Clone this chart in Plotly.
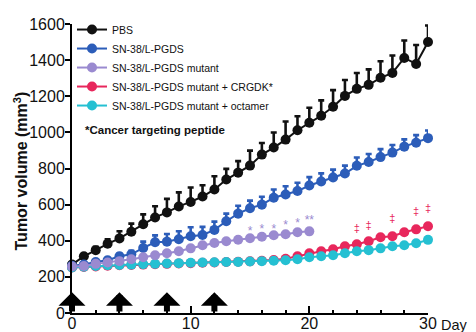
import plotly.graph_objects as go

days = list(range(31))
days_mut = list(range(21))

pbs = [268, 314, 348, 383, 413, 450, 491, 529, 557, 590, 615, 645, 684, 739, 777, 816,
       877, 916, 960, 1012, 1053, 1092, 1142, 1202, 1241, 1263, 1302, 1329, 1412, 1379, 1500]
pbs_err = [0, 12, 18, 25, 40, 45, 55, 62, 75, 78, 80, 62, 73, 59, 64, 83,
           64, 83, 100, 77, 83, 85, 92, 88, 88, 86, 92, 97, 97, 105, 92]

sn38 = [262, 268, 282, 292, 314, 325, 360, 392, 395, 408, 425, 432, 460, 508, 550, 580,
        600, 638, 656, 675, 706, 728, 750, 772, 815, 836, 863, 888, 921, 943, 968]
sn38_err = [0, 8, 10, 12, 15, 20, 35, 38, 42, 45, 50, 45, 46, 42, 44, 42,
            44, 46, 46, 46, 46, 45, 44, 44, 46, 44, 44, 42, 40, 42, 42]

mutant = [258, 260, 272, 280, 287, 298, 309, 320, 331, 342, 358, 375, 388, 397, 406, 414,
          422, 430, 436, 447, 452]

crgdk = [252, 255, 258, 262, 264, 266, 268, 270, 272, 274, 276, 278, 280, 282, 284, 286,
         289, 293, 300, 314, 331, 342, 353, 370, 381, 397, 419, 425, 447, 463, 480]

octamer = [252, 256, 260, 264, 266, 268, 270, 272, 274, 276, 278, 280, 281, 282, 283, 285,
           287, 289, 292, 298, 309, 314, 320, 331, 342, 348, 358, 370, 375, 386, 405]

star_days = [15, 16, 17, 18, 19, 20]
star_y = [448, 462, 462, 482, 494, 512]
star_text = ["*", "*", "*", "*", "*", "**"]

dagger_days = [24, 25, 27, 29, 30]
dagger_y = [463, 480, 518, 557, 574]

dose_days = [0, 4, 8, 12]

legend_names = ["PBS", "SN-38/L-PGDS", "SN-38/L-PGDS mutant",
                "SN-38/L-PGDS mutant + CRGDK*", "SN-38/L-PGDS mutant + octamer"]
y_ticks = [0, 200, 400, 600, 800, 1000, 1200, 1400, 1600]
x_ticks = [0, 10, 20, 30]

C_PBS = "#111111"
C_BLUE = "#2C5DB9"
C_PURPLE = "#9A8AD0"
C_RED = "#E8275C"
C_CYAN = "#25C0D2"

FONT = "Liberation Sans, Arial, sans-serif"

fig = go.Figure()


def add_series(x, y, name, color, rank, err=None):
    kw = {}
    if err is not None:
        kw["error_y"] = dict(type="data", array=err, arrayminus=[0] * len(err),
                             symmetric=False, color=color, thickness=2.6, width=3)
    fig.add_trace(go.Scatter(
        x=x, y=y, name=name, mode="lines+markers",
        line=dict(color=color, width=2),
        marker=dict(color=color, size=10),
        cliponaxis=False, legendrank=rank, **kw))


# drawing order (bottom to top)
add_series(days, crgdk, legend_names[3], C_RED, 4)
add_series(days, octamer, legend_names[4], C_CYAN, 5)
add_series(days, pbs, legend_names[0], C_PBS, 1, pbs_err)
add_series(days, sn38, legend_names[1], C_BLUE, 2, sn38_err)
add_series(days_mut, mutant, legend_names[2], C_PURPLE, 3)

fig.add_trace(go.Scatter(
    x=star_days, y=star_y, text=star_text, mode="text", showlegend=False,
    textfont=dict(color=C_PURPLE, size=12, family=FONT), cliponaxis=False))
fig.add_trace(go.Scatter(
    x=dagger_days, y=dagger_y, text=["‡"] * len(dagger_days), mode="text",
    showlegend=False, textfont=dict(color=C_RED, size=11, family=FONT),
    cliponaxis=False))

annotations = []
for d in dose_days:
    annotations.append(dict(
        x=d, y=115, ax=d, ay=0, xref="x", yref="y", axref="x", ayref="y",
        text="", showarrow=True, arrowhead=1, arrowsize=0.75, arrowwidth=6,
        arrowcolor="#000000"))

annotations.append(dict(
    x=0.9, y=1015, xref="x", yref="y", xanchor="left", yanchor="middle",
    text="<b>*Cancer targeting peptide</b>", showarrow=False,
    font=dict(size=11.5, color="#111111", family=FONT)))
annotations.append(dict(
    x=1.03, y=-0.04, xref="paper", yref="paper", xanchor="left",
    yanchor="middle", text="Day", showarrow=False,
    font=dict(size=14.5, color="#111111", family=FONT)))
annotations.append(dict(
    x=-0.143, y=0.49, xref="paper", yref="paper", xanchor="center",
    yanchor="middle", textangle=-90, text="<b>Tumor volume (mm<sup>3</sup>)</b>",
    showarrow=False, font=dict(size=16, color="#111111", family=FONT)))

# the page adds an 8px body margin, so the figure is 8px smaller and
# its left/top margins 8px narrower
fig.update_layout(
    width=468, height=324,
    margin=dict(l=64, r=48, t=16, b=19, autoexpand=False),
    paper_bgcolor="white", plot_bgcolor="white",
    font=dict(family=FONT, color="#111111"),
    showlegend=True,
    legend=dict(x=0.0, y=1.031, xanchor="left", yanchor="top",
                bgcolor="rgba(0,0,0,0)", borderwidth=0,
                font=dict(size=10.5, family=FONT, color="#111111"),
                traceorder="normal", itemwidth=30),
    annotations=annotations,
    xaxis=dict(range=[0, 30], showgrid=False, zeroline=False,
               showline=True, linecolor="#000000", linewidth=2,
               tickvals=x_ticks, ticks="inside", ticklen=7, tickwidth=2,
               tickcolor="#000000", ticklabelstandoff=-5,
               minor=dict(dtick=2, tick0=0, ticks="inside", ticklen=3,
                          tickwidth=1.5, tickcolor="#000000"),
               tickfont=dict(size=16, family=FONT, color="#111111"),
               tickprefix="<b>", ticksuffix="</b>"),
    yaxis=dict(range=[0, 1600], showgrid=False, zeroline=False,
               showline=True, linecolor="#000000", linewidth=2,
               tickvals=y_ticks, ticks="outside", ticklen=5, tickwidth=2,
               tickcolor="#000000", ticklabelstandoff=-3,
               tickfont=dict(size=16, family=FONT, color="#111111"),
               tickprefix="<b>", ticksuffix="</b>"),
)

fig.write_html("out.html")
